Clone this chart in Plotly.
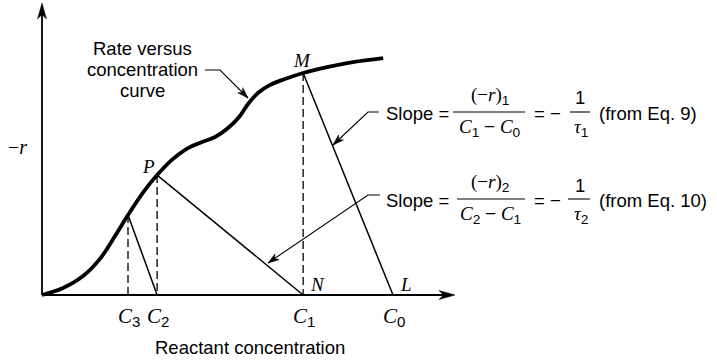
import plotly.graph_objects as go

# Rate versus concentration curve, -r against reactant concentration C (arbitrary units)
conc = [0.00, 0.60, 1.17, 1.65, 2.08, 2.45, 2.93, 3.28, 3.70, 4.16, 4.56,
        4.93, 5.30, 5.64, 5.87, 6.15, 6.50, 6.92, 7.44, 8.12, 8.86, 9.72]
rate = [0.00, 0.32, 0.86, 1.64, 2.68, 3.64, 4.77, 5.45, 6.14, 6.68, 6.95,
        7.18, 7.59, 8.14, 8.68, 9.18, 9.55, 9.82, 10.09, 10.36, 10.59, 10.77]

# Stage outlet concentrations C1, C2, C3 and their rates on the curve (points M, P, ...)
stage_conc = [7.44, 3.28, 2.45]
stage_rate = [10.09, 5.45, 3.64]
# Inlet concentration of each stage: C0, C1, C2
feed_conc = 10.0
inlet_conc = [feed_conc, stage_conc[0], stage_conc[1]]

conc_tick_labels = ["C0", "C1", "C2", "C3"]

# ---- canvas / axis scaling ----
W, H = 717, 362
X0PX, Y0PX = 42, 295          # pixel position of the origin
PXX, PXY = 35.1, 22.0         # pixels per data unit
X_END, Y_END = 455, 3         # pixel ends of the drawn axes (arrow tips)

SERIF = "Liberation Serif"
SANS = "Liberation Sans"


def px(x):
    return X0PX + x * PXX


def py(y):
    return Y0PX - y * PXY


def paper(xp, yp):
    return xp / W, 1 - yp / H


def arrowhead(tip, tail, length, half_w):
    """Filled barbed arrowhead path (paper coords) pointing from tail toward tip (pixels)."""
    tx, ty = tip
    dx, dy = tx - tail[0], ty - tail[1]
    n = (dx * dx + dy * dy) ** 0.5
    ux, uy = dx / n, dy / n
    nx, ny = -uy, ux
    pts = [
        (tx, ty),
        (tx - length * ux + half_w * nx, ty - length * uy + half_w * ny),
        (tx - 0.72 * length * ux, ty - 0.72 * length * uy),
        (tx - length * ux - half_w * nx, ty - length * uy - half_w * ny),
    ]
    p = [paper(*q) for q in pts]
    d = "M " + " L ".join(f"{a:.5f},{b:.5f}" for a, b in p) + " Z"
    return dict(type="path", xref="paper", yref="paper", path=d,
                fillcolor="black", line=dict(color="black", width=0.5))


def polyline(points, width=1.1):
    p = [paper(*q) for q in points]
    d = "M " + " L ".join(f"{a:.5f},{b:.5f}" for a, b in p)
    return dict(type="path", xref="paper", yref="paper", path=d,
                line=dict(color="black", width=width))


fig = go.Figure()

# rate curve
fig.add_trace(go.Scatter(
    x=conc, y=rate, mode="lines",
    line=dict(color="black", width=3.8, shape="spline", smoothing=1.0),
    hoverinfo="skip"))

# operating lines of slope -1/tau for each stage
for c_in, c_out, r_out in zip(inlet_conc, stage_conc, stage_rate):
    fig.add_trace(go.Scatter(
        x=[c_out, c_in], y=[r_out, 0], mode="lines",
        line=dict(color="black", width=1.5), hoverinfo="skip"))

# dashed drop lines from the curve to the concentration axis
for c_out, r_out in zip(stage_conc, stage_rate):
    fig.add_trace(go.Scatter(
        x=[c_out, c_out], y=[r_out, 0], mode="lines",
        line=dict(color="black", width=1.3, dash="8px,4px"), hoverinfo="skip"))

shapes = []
# axes
x_axis_end = (X_END - 8 - X0PX) / PXX
y_axis_end = (Y0PX - Y_END - 8) / PXY
shapes.append(dict(type="line", xref="x", yref="y", x0=0, y0=0, x1=x_axis_end, y1=0,
                   line=dict(color="black", width=1.8)))
shapes.append(dict(type="line", xref="x", yref="y", x0=0, y0=0, x1=0, y1=y_axis_end,
                   line=dict(color="black", width=1.8)))
shapes.append(arrowhead((X_END, Y0PX), (X0PX, Y0PX), 16, 4.5))
shapes.append(arrowhead((X0PX, Y_END), (X0PX, Y0PX), 16, 4.5))

# leader lines from the labels
leaders = [
    [(205, 70), (220, 70), (248, 98)],
    [(379, 112), (368, 112), (333, 145)],
    [(380, 195), (368, 195), (268, 263)],
]
for pts in leaders:
    shapes.append(polyline(pts))
    shapes.append(arrowhead(pts[-1], pts[-2], 11, 3.6))

# fraction bars in the slope expressions
for x0b, x1b, yb in [(453, 525, 112), (570, 590, 112), (457, 525, 199), (568, 590, 199)]:
    shapes.append(polyline([(x0b, yb), (x1b, yb)], width=1.1))

annotations = []


def ann(text, xp, yp, size, family=SANS, xanchor="center"):
    x, y = paper(xp, yp)
    annotations.append(dict(text=text, x=x, y=y, xref="paper", yref="paper",
                            xanchor=xanchor, yanchor="middle", showarrow=False,
                            font=dict(family=family, size=size, color="black")))


def sub(s, size):
    return (f"<sub><span style='font-family:{SANS};font-size:{0.72 * size:.1f}px'>"
            f"{s}</span></sub>")


def cvar(label, size):
    return f"<i>{label[0]}</i>{sub(label[1:], size)}"


# axis labels
ann("\u2212<i>r</i>", 17, 147, 20, SERIF)
ann("Reactant concentration", 250, 347, 18.5)

# concentration tick labels under the axis
tick_pos = {"C0": feed_conc, "C1": stage_conc[0], "C2": stage_conc[1], "C3": stage_conc[2]}
for lab in conc_tick_labels:
    ann(cvar(lab, 21), px(tick_pos[lab]) + 1, 317, 21, SERIF)

# point labels
ann("<i>M</i>", px(stage_conc[0]) - 1, py(stage_rate[0]) - 13, 19, SERIF)
ann("<i>P</i>", px(stage_conc[1]) - 9, py(stage_rate[1]) - 9, 19, SERIF)
ann("<i>N</i>", px(stage_conc[0]) + 14, py(0) - 11, 19, SERIF)
ann("<i>L</i>", px(feed_conc) + 13, py(0) - 11, 19, SERIF)

# curve label
for i, line in enumerate(["Rate versus", "concentration", "curve"]):
    ann(line, 142, 48 + i * 21, 18.5)

# slope expressions
for yc, num, den, tau, src in [
        (112, "1", ("C1", "C0"), "1", "(from Eq. 9)"),
        (199, "2", ("C2", "C1"), "2", "(from Eq. 10)")]:
    ann("Slope =", 384, yc + 1, 18.5, xanchor="left")
    ann(f"(\u2212<i>r</i>){sub(num, 19)}", 490, yc - 16, 19, SERIF)
    ann(f"{cvar(den[0], 19)} <span style='font-family:{SANS};font-size:19px'>\u2212</span> "
        f"{cvar(den[1], 19)}", 490, yc + 16, 19, SERIF)
    ann("= \u2212", 532, yc + 1, 18.5, xanchor="left")
    ann("1", 580, yc - 14, 18.5)
    ann(f"<i>\u03c4</i>{sub(tau, 19)}", 581, yc + 16, 19, SERIF)
    ann(src, 597, yc + 1, 18.5, xanchor="left")

fig.update_layout(
    width=W, height=H,
    margin=dict(l=0, r=0, t=0, b=0),
    paper_bgcolor="white", plot_bgcolor="white",
    showlegend=False,
    xaxis=dict(visible=False, range=[-X0PX / PXX, (W - X0PX) / PXX], fixedrange=True),
    yaxis=dict(visible=False, range=[(Y0PX - H) / PXY, Y0PX / PXY], fixedrange=True),
    shapes=shapes,
    annotations=annotations,
)

fig.write_html("out.html", config={"displayModeBar": False})
